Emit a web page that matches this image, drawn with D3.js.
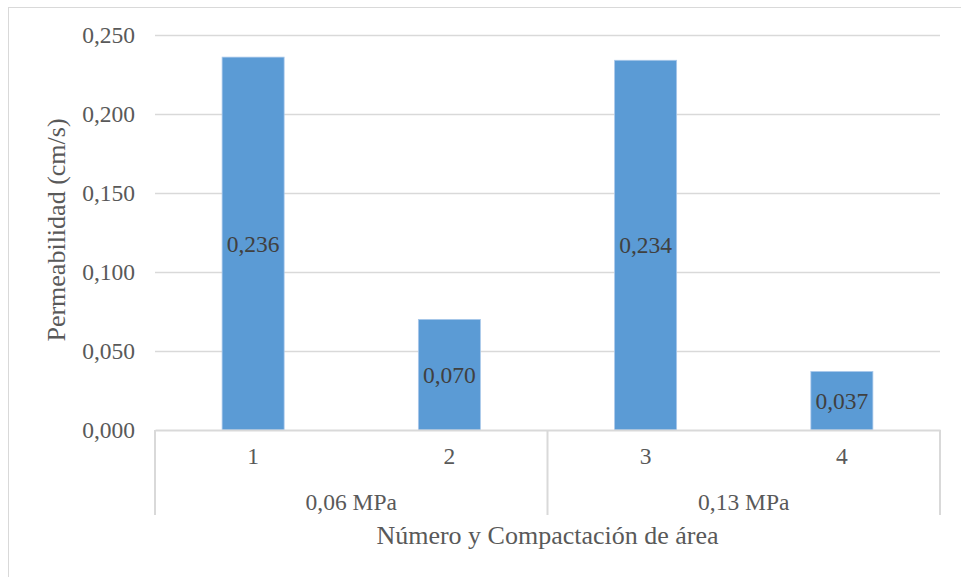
<!DOCTYPE html>
<html><head><meta charset="utf-8">
<script src="https://cdn.jsdelivr.net/npm/d3@7"></script>
<style>body{margin:0;background:#fff}svg{display:block}</style>
</head><body><svg id="c" width="961" height="577"></svg>
<script>
const categories = ["1","2","3","4"];
const groups = ["0,06 MPa","0,06 MPa","0,13 MPa","0,13 MPa"];
const groupNames = ["0,06 MPa","0,13 MPa"];
const values = [0.236,0.070,0.234,0.037];
const yTicks = [0,0.05,0.10,0.15,0.20,0.25];
const yTitle = "Permeabilidad (cm/s)";
const xTitle = "Número y Compactación de área";

const FF = "'Liberation Serif', 'Times New Roman', serif";
const svg = d3.select("#c");
const L=155,R=940,T=35,B=430;
svg.append("rect").attr("x",8.5).attr("y",7.5).attr("width",1000).attr("height",1000).attr("fill","none").attr("stroke","#d9d9d9");
const x = d3.scaleBand().domain(categories).range([L,R]).paddingInner(0.684).paddingOuter(0.342);
const y = d3.scaleLinear().domain([0,0.25]).range([B,T]);
const fmt = v=>d3.format(".3f")(v).replace(".",",");
// gridlines
svg.append("g").selectAll("line").data(yTicks.filter(d=>d>0)).join("line")
  .attr("x1",L).attr("x2",R).attr("y1",d=>Math.round(y(d))+0.5).attr("y2",d=>Math.round(y(d))+0.5)
  .attr("stroke","#d9d9d9").attr("stroke-width",1.5);
// y axis labels
const ya = svg.append("g").attr("transform",`translate(${L},0)`).call(d3.axisLeft(y).tickValues(yTicks).tickFormat(fmt).tickSize(0).tickPadding(20));
ya.attr("font-family",null);
ya.select(".domain").remove();
ya.selectAll("text").attr("font-size",23.5).attr("fill","#595959").style("font-family",FF);
// bars
svg.append("g").selectAll("rect").data(values).join("rect")
  .attr("x",(d,i)=>x(categories[i])).attr("width",x.bandwidth())
  .attr("y",d=>y(d)).attr("height",d=>B-y(d))
  .attr("fill","#5b9bd5").attr("stroke","#a9c8ea").attr("stroke-width",0.8);
svg.append("g").selectAll("text").data(values).join("text")
  .attr("x",(d,i)=>x(categories[i])+x.bandwidth()/2).attr("y",d=>(y(d)+B)/2)
  .attr("dy","0.35em").attr("text-anchor","middle").attr("font-size",23.5).attr("fill","#404040").style("font-family",FF).text(fmt);
// x axis
const xa = svg.append("g").attr("transform",`translate(0,${B})`).call(d3.axisBottom(x).tickSize(0).tickPadding(17));
xa.attr("font-family",null);
xa.select(".domain").attr("stroke","#d9d9d9").attr("stroke-width",2);
xa.selectAll("text").attr("font-size",23.5).attr("fill","#595959").style("font-family",FF);
// group separators
const seps=[L,(L+R)/2,R];
svg.append("g").selectAll("line").data(seps).join("line")
  .attr("x1",d=>d).attr("x2",d=>d).attr("y1",B).attr("y2",515).attr("stroke","#d9d9d9").attr("stroke-width",2);
svg.append("g").selectAll("text").data(groupNames).join("text")
  .attr("x",g=>d3.mean(categories.filter((c,i)=>groups[i]===g).map(c=>x(c)+x.bandwidth()/2)))
  .attr("y",502).attr("dy","0.35em").attr("text-anchor","middle").attr("font-size",23.5).attr("fill","#595959").style("font-family",FF).text(d=>d);
// titles
svg.append("text").attr("x",(L+R)/2).attr("y",535).attr("dy","0.35em").attr("text-anchor","middle").attr("font-size",26).attr("fill","#595959").style("font-family",FF).text(xTitle);
svg.append("text").attr("transform",`translate(56,230) rotate(-90)`).attr("dy","0.35em").attr("text-anchor","middle").attr("font-size",26).attr("fill","#595959").style("font-family",FF).text(yTitle);
</script></body></html>
